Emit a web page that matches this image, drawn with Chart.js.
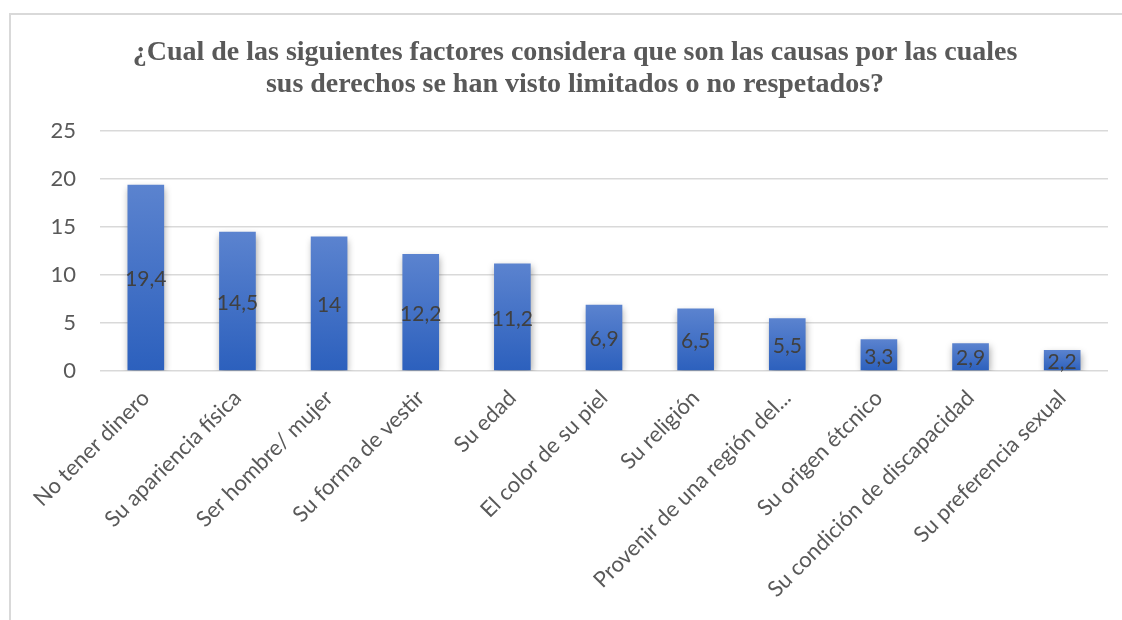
<!DOCTYPE html>
<html>
<head>
<meta charset="utf-8">
<script src="https://cdn.jsdelivr.net/npm/chart.js@4.4.1/dist/chart.umd.min.js"></script>
<style>
  html, body { margin: 0; padding: 0; background: #fff; }
  #frame { position: absolute; left: 9px; top: 13px; width: 1120px; height: 700px;
           border-top: 2px solid #d9d9d9; border-left: 2px solid #d9d9d9; }
  #wrap { position: absolute; left: 0; top: 0; width: 1122px; height: 620px; }
</style>
</head>
<body>
<div id="frame"></div>
<div id="wrap"><canvas id="causasChart" width="1122" height="620"></canvas></div>
<script>
/* datos del grafico */
const tituloLineas = [
    "¿Cual de las siguientes factores considera que son las causas por las cuales",
    "sus derechos se han visto limitados o no respetados?"
];
const categorias = [
    "No tener dinero",
    "Su apariencia física",
    "Ser hombre/ mujer",
    "Su forma de vestir",
    "Su edad",
    "El color de su piel",
    "Su religión",
    "Provenir de una región del...",
    "Su origen étcnico",
    "Su condición de discapacidad",
    "Su preferencia sexual"
];
const porcentajes = [19.4, 14.5, 14, 12.2, 11.2, 6.9, 6.5, 5.5, 3.3, 2.9, 2.2];
const ticksY = [0, 5, 10, 15, 20, 25];

Chart.defaults.font.family = "Lato";

// degradado de cada barra: claro arriba, oscuro abajo
function degradado(context) {
    const chart = context.chart;
    if (!chart.chartArea || context.type !== "data") return "#4472c4";
    const y = chart.scales.y;
    const top = y.getPixelForValue(context.raw);
    const base = y.getPixelForValue(0);
    const g = chart.ctx.createLinearGradient(0, top, 0, base);
    g.addColorStop(0, "#5b83cf");
    g.addColorStop(1, "#2c60bd");
    return g;
}

const sombraPlugin = {
    id: "sombra",
    beforeDatasetsDraw(chart) {
        const ctx = chart.ctx;
        ctx.save();
        ctx.shadowColor = "rgba(0,0,0,0.35)";
        ctx.shadowBlur = 7;
        ctx.shadowOffsetX = 1;
        ctx.shadowOffsetY = 3;
    },
    afterDatasetsDraw(chart) {
        chart.ctx.restore();
    }
};

const etiquetasPlugin = {
    id: "etiquetas",
    afterDatasetsDraw(chart) {
        const ctx = chart.ctx;
        const meta = chart.getDatasetMeta(0);
        ctx.save();
        ctx.font = "21px Lato";
        ctx.fillStyle = "#404040";
        ctx.textAlign = "center";
        ctx.textBaseline = "middle";
        meta.data.forEach((bar, i) => {
            const texto = String(porcentajes[i]).replace(".", ",");
            ctx.fillText(texto, bar.x, (bar.y + bar.base) / 2 + 2);
        });
        ctx.restore();
    }
};

const tituloPlugin = {
    id: "titulo",
    afterDraw(chart) {
        const ctx = chart.ctx;
        ctx.save();
        ctx.font = "bold 28px 'Liberation Serif'";
        ctx.fillStyle = "#595959";
        ctx.textAlign = "center";
        ctx.textBaseline = "middle";
        tituloLineas.forEach((linea, i) => {
            ctx.fillText(linea, 575, 53 + i * 32);
        });
        ctx.restore();
    }
};

const data = {
    labels: categorias,
    datasets: [
        {
            label: "Causas",
            data: porcentajes,
            backgroundColor: degradado,
            borderWidth: 0,
            barPercentage: 0.4,
            categoryPercentage: 1,
        },
    ],
};

const config = {
    type: "bar",
    data: data,
    options: {
        responsive: false,
        animation: false,
        layout: { padding: { top: 131, left: 10, right: 14, bottom: 0 } },
        plugins: {
            legend: { display: false },
            tooltip: { enabled: false },
            title: { display: false },
        },
        scales: {
            x: {
                grid: { display: false },
                border: { display: false },
                ticks: {
                    color: "#595959",
                    font: { size: 22 },
                    minRotation: 45,
                    maxRotation: 45,
                    autoSkip: false,
                    padding: 6,
                },
                afterFit(scale) { scale.height = 249; },
            },
            y: {
                min: 0,
                max: 25,
                afterBuildTicks(scale) {
                    scale.ticks = ticksY.map((v) => ({ value: v }));
                },
                grid: { color: "#d9d9d9", lineWidth: 1.5, drawTicks: false },
                border: { display: false },
                ticks: {
                    color: "#595959",
                    font: { size: 22 },
                    padding: 24,
                },
                afterFit(scale) { scale.width = 90; },
            },
        },
    },
    plugins: [sombraPlugin, etiquetasPlugin, tituloPlugin],
};

const causasChart = new Chart(document.getElementById("causasChart"), config);
</script>
</body>
</html>
